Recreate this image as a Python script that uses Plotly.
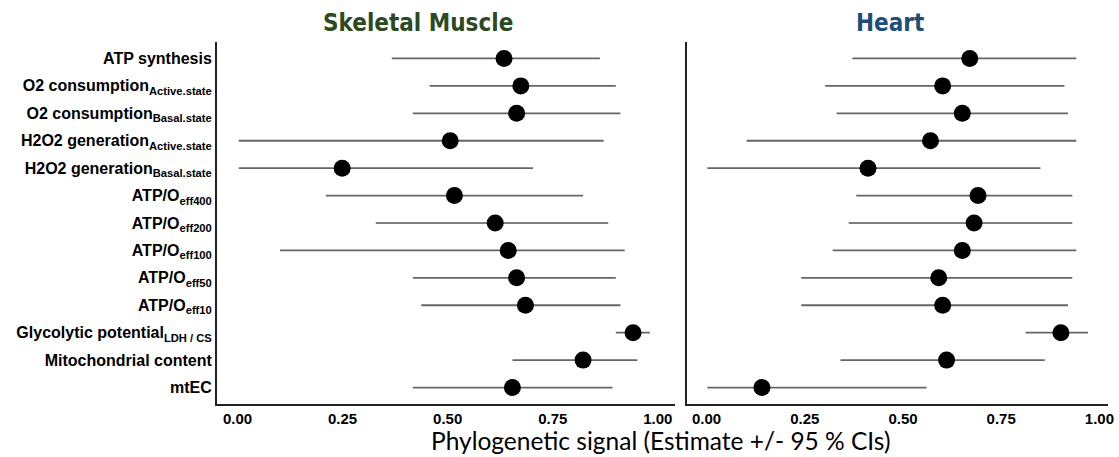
import plotly.graph_objects as go

labels = [
    "ATP synthesis",
    "O2 consumption<sub>Active.state</sub>",
    "O2 consumption<sub>Basal.state</sub>",
    "H2O2 generation<sub>Active.state</sub>",
    "H2O2 generation<sub>Basal.state</sub>",
    "ATP/O<sub>eff400</sub>",
    "ATP/O<sub>eff200</sub>",
    "ATP/O<sub>eff100</sub>",
    "ATP/O<sub>eff50</sub>",
    "ATP/O<sub>eff10</sub>",
    "Glycolytic potential<sub>LDH / CS</sub>",
    "Mitochondrial content",
    "mtEC",
]

sk_est = [0.634, 0.674, 0.664, 0.506, 0.249, 0.516, 0.613, 0.644, 0.664, 0.685, 0.941, 0.822, 0.654]
sk_lo  = [0.367, 0.457, 0.417, 0.003, 0.003, 0.210, 0.329, 0.101, 0.417, 0.437, 0.900, 0.654, 0.417]
sk_hi  = [0.862, 0.900, 0.911, 0.871, 0.703, 0.822, 0.882, 0.921, 0.900, 0.911, 0.981, 0.951, 0.892]

ht_est = [0.670, 0.601, 0.651, 0.570, 0.411, 0.691, 0.681, 0.651, 0.591, 0.601, 0.902, 0.611, 0.141]
ht_lo  = [0.371, 0.302, 0.331, 0.102, 0.002, 0.381, 0.362, 0.321, 0.241, 0.241, 0.812, 0.341, 0.002]
ht_hi  = [0.941, 0.911, 0.920, 0.941, 0.850, 0.931, 0.931, 0.941, 0.931, 0.920, 0.971, 0.861, 0.560]

xticks = [0.0, 0.25, 0.5, 0.75, 1.0]
xticktext = ["0.00", "0.25", "0.50", "0.75", "1.00"]

W, H = 1119, 457
ML, MR, MT, MB = 217, 10.7, 41.5, 52.5
PW = W - ML - MR
PH = H - MT - MB

def px(xpix):
    return (xpix - ML) / PW

def py(ypix):
    return (H - MB - ypix) / PH

fig = go.Figure()
rows = list(range(len(labels)))

def add_panel(est, lo, hi, xa, ya):
    for i in rows:
        black = (i == 6)
        fig.add_trace(go.Scatter(
            x=[lo[i], hi[i]], y=[i, i], mode="lines",
            line=dict(color="#000000" if black else "#666666", width=1.2 if black else 1.8),
            xaxis=xa, yaxis=ya, showlegend=False, hoverinfo="skip"))
    fig.add_trace(go.Scatter(
        x=est, y=rows, mode="markers",
        marker=dict(color="black", size=17),
        xaxis=xa, yaxis=ya, showlegend=False))

add_panel(sk_est, sk_lo, sk_hi, "x", "y")
add_panel(ht_est, ht_lo, ht_hi, "x2", "y2")

axis_common = dict(showgrid=False, zeroline=False, showline=True, linecolor="#222222",
                   linewidth=2, ticks="", tickvals=xticks, ticklabelstandoff=0,
                   ticktext=["<b>%s</b>" % t for t in xticktext],
                   tickfont=dict(family="Liberation Sans, Arial", size=15, color="black"))
fig.update_layout(
    width=W, height=H,
    margin=dict(l=ML, r=MR, t=MT, b=MB, autoexpand=False),
    paper_bgcolor="white", plot_bgcolor="white",
    xaxis=dict(domain=[0, 458 / PW], range=[-0.0488, 1.0404], **axis_common),
    xaxis2=dict(domain=[(687.5 - ML) / PW, 1], range=[-0.0489, 1.0219], **axis_common),
    yaxis=dict(range=[12.6, -0.6], tickvals=rows, ticktext=["<b>%s</b>" % l for l in labels],
               showgrid=False, zeroline=False, showline=True, linecolor="#222222", linewidth=2,
               ticks="", ticklabelstandoff=0,
               tickfont=dict(family="Liberation Sans, Arial", size=16, color="black")),
    yaxis2=dict(range=[12.6, -0.6], anchor="x2", showticklabels=False, showgrid=False,
                zeroline=False, showline=True, linecolor="#222222", linewidth=2, ticks=""),
)

fig.add_annotation(x=px(418), y=py(22), xref="paper", yref="paper", yanchor="middle", xanchor="center",
                   text="<b>Skeletal Muscle</b>", showarrow=False,
                   font=dict(family="DejaVu Sans Condensed, Liberation Sans Narrow", size=24, color="#2C4A22"))
fig.add_annotation(x=px(890), y=py(22), xref="paper", yref="paper", yanchor="middle", xanchor="center",
                   text="<b>Heart</b>", showarrow=False,
                   font=dict(family="DejaVu Sans Condensed, Liberation Sans Narrow", size=24, color="#1F4E79"))
fig.add_annotation(x=px(661), y=py(441), xref="paper", yref="paper", yanchor="middle", xanchor="center",
                   text="Phylogenetic signal (Estimate +/- 95 % CIs)", showarrow=False,
                   font=dict(family="Lato, Open Sans", size=24.5, color="black"))

fig.write_html("out.html", config={"displayModeBar": False},
               post_script="document.body.style.margin='0px';document.body.style.overflow='hidden';")
